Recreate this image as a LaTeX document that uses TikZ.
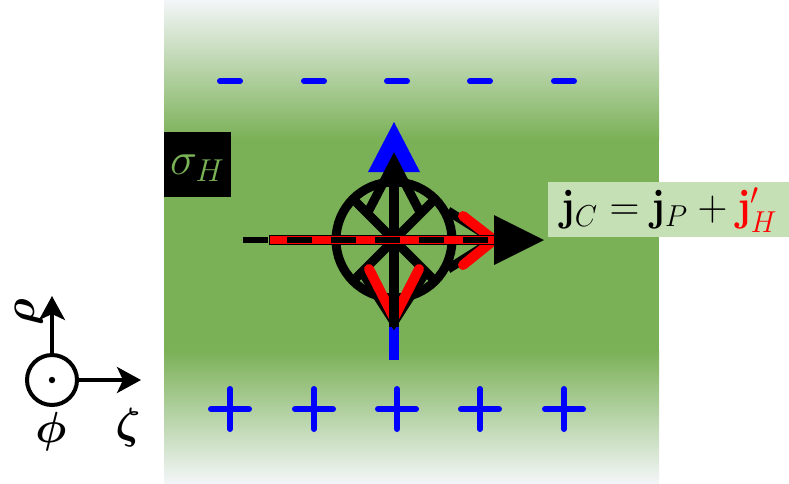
\documentclass[tikz,border=0pt]{standalone}
\usepackage{amsmath,bm}
\usetikzlibrary{arrows.meta}
\definecolor{bggreen}{RGB}{122,176,86}
\definecolor{bgwhite}{RGB}{243,246,248}
\definecolor{boxgreen}{RGB}{197,224,180}
\definecolor{sigmagreen}{RGB}{122,178,86}
\tikzset{
  charge/.style={blue, line width=6, line cap=round},
  thickblack/.style={black, line width=9},
  redleg/.style={red, line width=10, line cap=round},
  axis/.style={black, line width=3.5, -{Stealth[length=24, width=26, inset=6]}},
  biglabel/.style={inner sep=0, font=\huge},
}
\begin{document}
\begin{tikzpicture}[x=1pt,y=-1pt]
\useasboundingbox (0,0) rectangle (789,483);
\fill[white] (0,0) rectangle (789,483);
% background slab
\shade[top color=bgwhite, bottom color=bggreen] (164,0) rectangle (659,140);
\fill[bggreen] (164,139.5) rectangle (659,350.5);
\shade[top color=bggreen, bottom color=bgwhite] (164,350) rectangle (659,483);
% charges
\foreach \x in {230,314,397,480,564}{
  \draw[charge] (\x-10,81) -- (\x+10,81);
  \draw[charge] (\x,389) -- (\x,429);
  \draw[charge] (\x-19,409) -- (\x+19,409);
}
% central symbol
\coordinate (c) at (394,240);
\coordinate (blueBot) at (394,360);
\coordinate (blueTop) at (394,170);
\draw[blue, line width=10] (blueBot) -- (blueTop);
\fill[blue] (394,122) -- (368,172) -- (420,172) -- cycle;
\draw[thickblack] (c) circle (58pt);
\draw[thickblack] (353,199) -- (435,281);
\draw[thickblack] (353,281) -- (435,199);
\draw[thickblack] (367,214) -- (394,162) -- (421,214);
\draw[thickblack] (448,211) -- (494,240) -- (448,269);
\draw[thickblack] (362,272) -- (394,322) -- (426,272);
\draw[redleg] (369,269) -- (394,318);
\draw[redleg] (419,269) -- (394,318);
\draw[redleg] (463,216) -- (494,240);
\draw[redleg] (463,265) -- (494,240);
\coordinate (vBot) at (394,327);
\coordinate (vTop) at (394,170);
\draw[black, line width=10] (vBot) -- (vTop);
\fill[black] (394,155) -- (380,182) -- (408,182) -- cycle;
\coordinate (hL) at (269,240);
\coordinate (hR) at (497,240);
\draw[black, line width=10] (hL) -- (hR);
\draw[red, line width=8] (270,240) -- (496,240);
\draw[black, line width=6, dash pattern=on 25pt off 19pt] (243,240) -- (494,240);
\fill[black] (544,240) -- (494,215) -- (494,265) -- cycle;
% labels
\node[fill=black, minimum width=67, minimum height=65, inner sep=0] (sig) at (197.5,164.5) {};
\node[inner sep=0, text=sigmagreen, font=\huge] (sigtext) at (197.5,168)
      {\scalebox{2.2}{$\sigma_H$}};
\node[fill=boxgreen, minimum width=241, minimum height=55, inner sep=0] (eq) at (668.5,209.5) {};
\node[inner sep=0, font=\huge] (eqtext) at (669,210)
      {\scalebox{2.0}[2.1]{$\mathbf{j}_C = \mathbf{j}_P + {\color{red}\mathbf{j}'_H}$}};
% coordinate axes
\node[circle, draw, line width=4, minimum size=50, inner sep=0] (o) at (52,380) {};
\fill (o.center) circle (3.2pt);
\coordinate (rhoTip) at (52,296);
\coordinate (zetaTip) at (141,380);
\draw[axis] (o.north) -- (rhoTip);
\draw[axis] (o.east) -- (zetaTip);
\node[biglabel, rotate=90] (rho) at (29,312) {\scalebox{2.1}{$\bm{\rho}$}};
\node[biglabel] (phi) at (51,432) {\scalebox{2.1}{$\bm{\phi}$}};
\node[biglabel] (zeta) at (128,428) {\scalebox{2.1}{$\bm{\zeta}$}};
\end{tikzpicture}
\end{document}
